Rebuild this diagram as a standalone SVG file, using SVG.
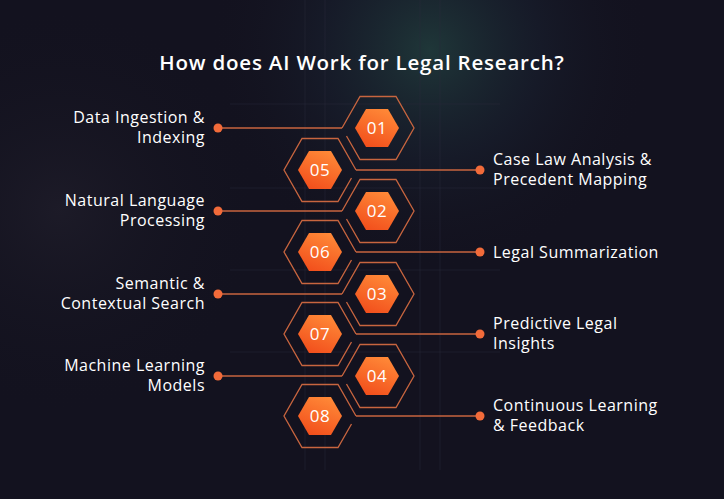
<svg xmlns="http://www.w3.org/2000/svg" width="724" height="499" viewBox="0 0 724 499">
<defs>
<radialGradient id="glow" cx="430" cy="50" r="220" gradientUnits="userSpaceOnUse">
<stop offset="0" stop-color="#22403f" stop-opacity="0.8"/>
<stop offset="0.5" stop-color="#1a2433" stop-opacity="0.45"/>
<stop offset="1" stop-color="#14131f" stop-opacity="0"/>
</radialGradient>
<radialGradient id="glow2" cx="60" cy="210" r="200" gradientUnits="userSpaceOnUse">
<stop offset="0" stop-color="#1f1d2a" stop-opacity="0.8"/>
<stop offset="1" stop-color="#14131f" stop-opacity="0"/>
</radialGradient>
<linearGradient id="fillg" x1="0.75" y1="0" x2="0.3" y2="1">
<stop offset="0" stop-color="#ff8a38"/>
<stop offset="1" stop-color="#f24f1c"/>
</linearGradient>
<path id="outline" d="M-36,0 L-18,-31.5 L18,-31.5 L36,0 L18,31.5 L-18,31.5 L-31.5,8"/>
<polygon id="core" points="-22,0 -11,-19 11,-19 22,0 11,19 -11,19"/>
<style>
.ol{fill:none;stroke:#c8653f;stroke-width:1.3}
.core{fill:url(#fillg)}
.num{font-family:"Open Sans","Liberation Sans",sans-serif;font-size:17px;fill:#ffffff;text-anchor:middle;letter-spacing:0.5px}
.lbl{font-family:"Open Sans","Liberation Sans",sans-serif;font-size:16px;fill:#ffffff;letter-spacing:0.5px}
.l{text-anchor:end}
.conn{stroke:#c8653f;stroke-width:1.5}
.dot{fill:#f26b3a}
.grid{stroke:#2a2a3c;stroke-width:1;opacity:0.45}
</style>
</defs>
<rect width="724" height="499" fill="#13121f"/>
<rect width="724" height="499" fill="url(#glow)"/>
<rect width="724" height="499" fill="url(#glow2)"/>
<g id="grid">
<line class="grid" x1="305" y1="0" x2="305" y2="470"/>
<line class="grid" x1="325" y1="0" x2="325" y2="470"/>
<line class="grid" x1="420" y1="0" x2="420" y2="470"/>
<line class="grid" x1="440" y1="0" x2="440" y2="470"/>
<line class="grid" x1="230" y1="104" x2="500" y2="104"/>
<line class="grid" x1="230" y1="188" x2="500" y2="188"/>
<line class="grid" x1="230" y1="270" x2="500" y2="270"/>
<line class="grid" x1="230" y1="352" x2="500" y2="352"/>
</g>
<text x="362" y="70" text-anchor="middle" font-family="'Open Sans','Liberation Sans',sans-serif" font-size="20.5" font-weight="600" letter-spacing="0.8" fill="#ffffff">How does AI Work for Legal Research?</text>
<g id="connectors">
<line class="conn" x1="218" y1="128" x2="342" y2="128"/>
<line class="conn" x1="218" y1="211" x2="342" y2="211"/>
<line class="conn" x1="218" y1="294" x2="342" y2="294"/>
<line class="conn" x1="218" y1="376" x2="342" y2="376"/>
<line class="conn" x1="356" y1="170" x2="480" y2="170"/>
<line class="conn" x1="356" y1="252" x2="480" y2="252"/>
<line class="conn" x1="356" y1="334" x2="480" y2="334"/>
<line class="conn" x1="356" y1="416" x2="480" y2="416"/>
<circle class="dot" cx="218" cy="128" r="4.5"/>
<circle class="dot" cx="218" cy="211" r="4.5"/>
<circle class="dot" cx="218" cy="294" r="4.5"/>
<circle class="dot" cx="218" cy="376" r="4.5"/>
<circle class="dot" cx="480" cy="170" r="4.5"/>
<circle class="dot" cx="480" cy="252" r="4.5"/>
<circle class="dot" cx="480" cy="334" r="4.5"/>
<circle class="dot" cx="480" cy="416" r="4.5"/>
</g>
<g id="node01">
<use href="#outline" class="ol" transform="translate(378,128)"/>
<use href="#core" class="core" transform="translate(377,128)"/>
<text class="num" x="377" y="134">01</text>
<text class="lbl l" x="205" y="123">Data Ingestion &amp;</text>
<text class="lbl l" x="205" y="143">Indexing</text>
</g>
<g id="node02">
<use href="#outline" class="ol" transform="translate(378,211)"/>
<use href="#core" class="core" transform="translate(377,211)"/>
<text class="num" x="377" y="217">02</text>
<text class="lbl l" x="205" y="206">Natural Language</text>
<text class="lbl l" x="205" y="226">Processing</text>
</g>
<g id="node03">
<use href="#outline" class="ol" transform="translate(378,294)"/>
<use href="#core" class="core" transform="translate(377,294)"/>
<text class="num" x="377" y="300">03</text>
<text class="lbl l" x="205" y="289">Semantic &amp;</text>
<text class="lbl l" x="205" y="309">Contextual Search</text>
</g>
<g id="node04">
<use href="#outline" class="ol" transform="translate(378,376)"/>
<use href="#core" class="core" transform="translate(377,376)"/>
<text class="num" x="377" y="382">04</text>
<text class="lbl l" x="205" y="371">Machine Learning</text>
<text class="lbl l" x="205" y="391">Models</text>
</g>
<g id="node05">
<use href="#outline" class="ol" transform="translate(320,170) scale(-1,1)"/>
<use href="#core" class="core" transform="translate(320,170)"/>
<text class="num" x="320" y="176">05</text>
<text class="lbl" x="493" y="165">Case Law Analysis &amp;</text>
<text class="lbl" x="493" y="185">Precedent Mapping</text>
</g>
<g id="node06">
<use href="#outline" class="ol" transform="translate(320,252) scale(-1,1)"/>
<use href="#core" class="core" transform="translate(320,252)"/>
<text class="num" x="320" y="258">06</text>
<text class="lbl" x="493" y="258">Legal Summarization</text>
</g>
<g id="node07">
<use href="#outline" class="ol" transform="translate(320,334) scale(-1,1)"/>
<use href="#core" class="core" transform="translate(320,334)"/>
<text class="num" x="320" y="340">07</text>
<text class="lbl" x="493" y="329">Predictive Legal</text>
<text class="lbl" x="493" y="349">Insights</text>
</g>
<g id="node08">
<use href="#outline" class="ol" transform="translate(320,416) scale(-1,1)"/>
<use href="#core" class="core" transform="translate(320,416)"/>
<text class="num" x="320" y="422">08</text>
<text class="lbl" x="493" y="411">Continuous Learning</text>
<text class="lbl" x="493" y="431">&amp; Feedback</text>
</g>
</svg>
